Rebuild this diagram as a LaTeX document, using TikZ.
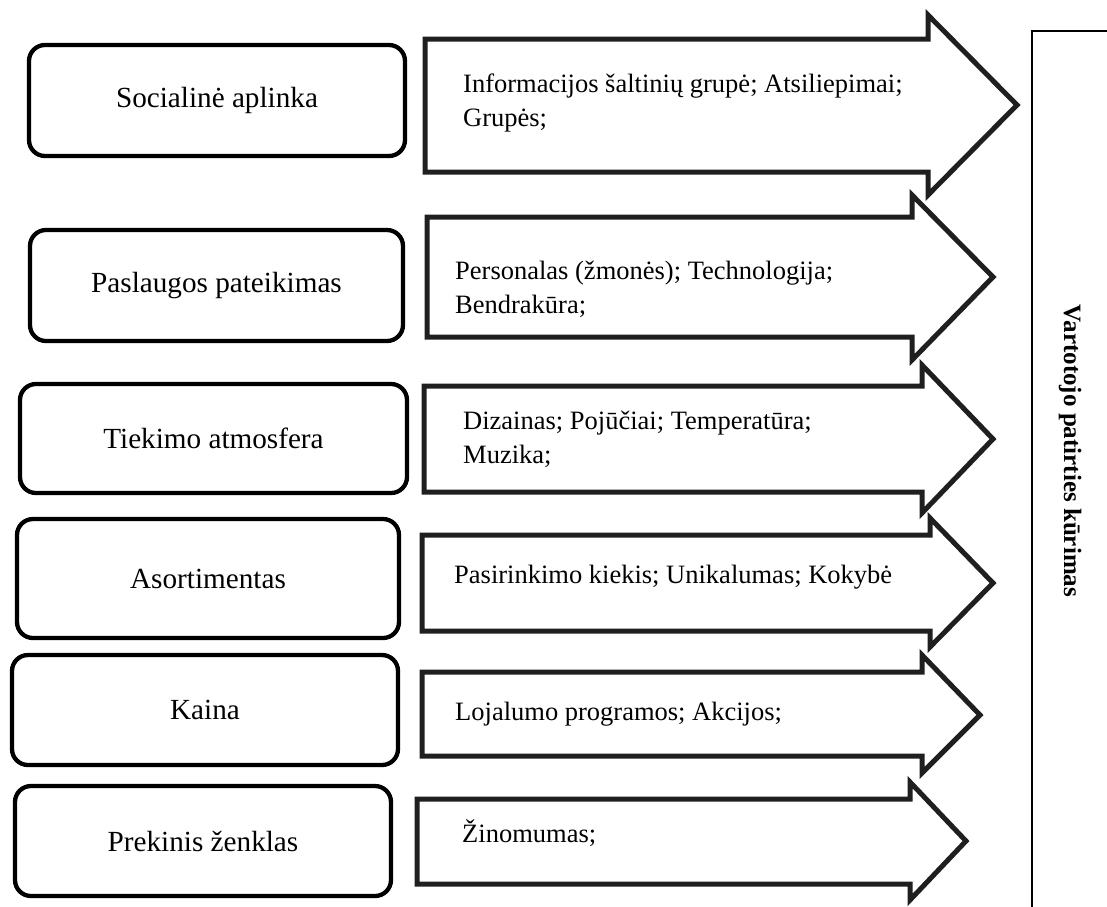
\documentclass[tikz,border=0pt]{standalone}
\usepackage{fontspec}
\setmainfont{Liberation Serif}

% Block arrow: left x, body top, body bottom, head base x, head top, head bottom, tip x, tip y
\newcommand\flowarrow[8]{%
  \draw[flow] (#1,#2) -- (#4,#2) -- (#4,#5) -- (#7,#8) -- (#4,#6) -- (#4,#3) -- (#1,#3) -- cycle;}

\begin{document}
\begin{tikzpicture}[x=1pt,y=-1pt,
  factor/.style={draw=black, line width=4.3pt, rounded corners=16pt, inner sep=0pt,
                 font=\fontsize{29.2}{35}\selectfont},
  flow/.style={draw=black!88, line width=5pt, line join=miter, fill=white},
  flowtext/.style={font=\fontsize{26.5}{34}\selectfont, anchor=base west, align=left, inner sep=0pt},
  panel/.style={draw=black, line width=1.3pt},
  paneltext/.style={font=\bfseries\fontsize{25}{30}\selectfont, rotate=-90, anchor=base, inner sep=0pt}]
\useasboundingbox (0,0) rectangle (1107,906);

% factor boxes on the left
\node[factor, minimum width=376pt, minimum height=111pt] (b1) at (217,100.5) {Socialinė aplinka};
\node[factor, minimum width=373pt, minimum height=111pt] (b2) at (216.5,285.5) {Paslaugos pateikimas};
\node[factor, minimum width=387pt, minimum height=109pt] (b3) at (213.5,438.5) {Tiekimo atmosfera};
\node[factor, minimum width=382pt, minimum height=119pt] (b4) at (208,578.5) {Asortimentas};
\node[factor, minimum width=386pt, minimum height=110pt] (b5) at (205,710) {Kaina};
\node[factor, minimum width=376pt, minimum height=110pt] (b6) at (203,841) {Prekinis ženklas};

% block arrows
\flowarrow{425}{39}{172}{928}{15}{195}{1017}{105}
\flowarrow{427}{217}{337}{912}{195}{360}{993}{277}
\flowarrow{424}{386}{492}{922}{365}{513}{993}{439}
\flowarrow{422}{535}{631}{930}{518}{647}{993}{583}
\flowarrow{422}{672}{756}{922}{655}{773}{980}{715}
\flowarrow{417}{799}{884}{910}{782}{900}{966}{841}

% arrow contents (base = baseline of the last line)
\node[flowtext] (t1) at (463,126) {Informacijos šaltinių grupė; Atsiliepimai;\\Grupės;};
\node[flowtext] (t2) at (455,313) {Personalas (žmonės); Technologija;\\Bendrakūra;};
\node[flowtext] (t3) at (463,463) {Dizainas; Pojūčiai; Temperatūra;\\Muzika;};
\node[flowtext] (t4) at (454,583) {Pasirinkimo kiekis; Unikalumas; Kokybė};
\node[flowtext] (t5) at (455,720) {Lojalumo programos; Akcijos;};
\node[flowtext] (t6) at (462,842) {Žinomumas;};

% outcome panel on the right
\draw[panel] (1032,930) -- (1032,31) -- (1130,31);
\node[paneltext] (p) at (1064,451) {Vartotojo patirties kūrimas};
\end{tikzpicture}
\end{document}
